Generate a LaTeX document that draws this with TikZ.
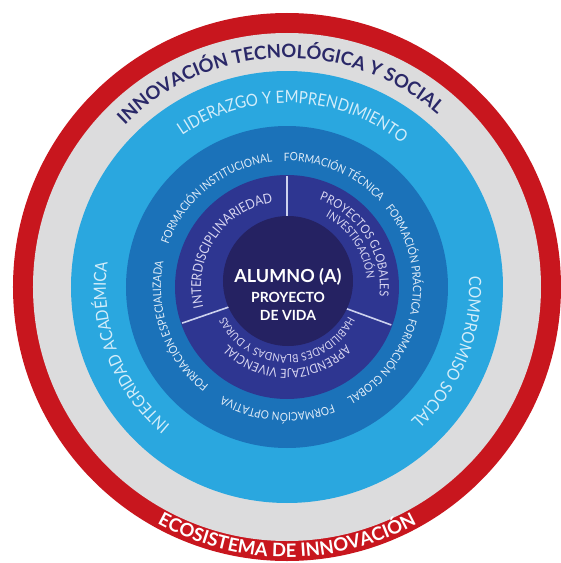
\documentclass[tikz,border=0pt]{standalone}
\usepackage{fontspec}
\setmainfont{Lato}
\newfontfamily\narrowfont[FakeStretch=0.88]{Lato}
\usetikzlibrary{decorations.text}
\definecolor{ecored}{HTML}{C8161E}
\definecolor{ecogray}{HTML}{DCDCDD}
\definecolor{ringsky}{HTML}{2AA7DF}
\definecolor{ringblue}{HTML}{1B72B9}
\definecolor{ringviolet}{HTML}{2E3691}
\definecolor{corenavy}{HTML}{252262}
\definecolor{titlenavy}{HTML}{2A2868}
\definecolor{skytext}{HTML}{D3EDFA}
\definecolor{bluetext}{HTML}{E2EDF8}
\definecolor{violettext}{HTML}{D8D6F1}
\definecolor{divider}{HTML}{CDD2EE}

\newcommand{\fonttitle}{\bfseries\fontsize{18.5}{20}\selectfont}
\newcommand{\fontsky}{\narrowfont\fontsize{17}{19}\selectfont}
\newcommand{\fontblue}{\narrowfont\fontsize{11.5}{13}\selectfont}
\newcommand{\fontviolet}{\narrowfont\fontsize{13.5}{15}\selectfont}
\newcommand{\fontvioletsmall}{\narrowfont\fontsize{11}{13}\selectfont}
% radius, from angle, to angle, colour, font, text
\newcommand{\ringtext}[6]{%
  \path[decorate, decoration={text along path, text align=center,
      text color=#4, text={|#5|#6}}]
    (#2:#1pt) arc[start angle=#2, end angle=#3, radius=#1pt];}

\begin{document}
\begin{tikzpicture}[x=1pt, y=1pt,
    dividerline/.style={draw=divider, line width=1.6pt},
    centertext/.style={text=white, align=center, inner sep=0pt}
  ]
    \useasboundingbox (-287,-276) rectangle (274,287);
    \fill[white] (-287,-276) rectangle (274,287);

    % concentric rings
    \fill[ecored]     (0,0) circle[radius=274pt];
    \fill[ecogray]    (0,0) circle[radius=254pt];
    \fill[ringsky]    (0,0) circle[radius=216pt];
    \fill[ringblue]   (0,0) circle[radius=161pt];
    \fill[ringviolet] (0,0) circle[radius=112pt];
    \foreach \a in {90,199,340}
      \draw[dividerline] (\a:50pt) -- (\a:111pt);
    \fill[corenavy]   (1,6) circle[radius=65pt];

    % outer rings
    \ringtext{229}{162}{22}{titlenavy}{\fonttitle}{INNOVACIÓN TECNOLÓGICA Y SOCIAL}
    \ringtext{270}{210}{330}{white}{\fonttitle}{ECOSISTEMA DE INNOVACIÓN}
    \ringtext{184}{148}{28}{skytext}{\fontsky}{LIDERAZGO Y EMPRENDIMIENTO}
    \ringtext{181}{251}{151}{skytext}{\fontsky}{INTEGRIDAD ACADÉMICA}
    \ringtext{182}{383}{293}{skytext}{\fontsky}{COMPROMISO SOCIAL}

    % formacion ring
    \ringtext{126}{178.5}{78.5}{bluetext}{\fontblue}{FORMACIÓN INSTITUCIONAL}
    \ringtext{126}{117}{17}{bluetext}{\fontblue}{FORMACIÓN TÉCNICA}
    \ringtext{126}{63}{-37}{bluetext}{\fontblue}{FORMACIÓN PRÁCTICA}
    \ringtext{126}{12}{-88}{bluetext}{\fontblue}{FORMACIÓN GLOBAL}
    \ringtext{126}{315.5}{215.5}{bluetext}{\fontblue}{FORMACIÓN OPTATIVA}
    \ringtext{126}{250}{150}{bluetext}{\fontblue}{FORMACIÓN ESPECIALIZADA}

    % inner sectors
    \ringtext{86}{206.5}{86.5}{violettext}{\fontviolet}{INTERDISCIPLINARIEDAD}
    \ringtext{93}{92}{-28}{violettext}{\narrowfont\fontsize{12.5}{14}\selectfont}{PROYECTOS GLOBALES}
    \ringtext{80}{93.5}{-26.5}{violettext}{\narrowfont\fontsize{11.5}{13}\selectfont}{INVESTIGACIÓN}
    \ringtext{82}{350}{190}{violettext}{\narrowfont\fontsize{12.5}{14}\selectfont}{APRENDIZAJE VIVENCIAL}
    \ringtext{68}{360}{180}{violettext}{\fontvioletsmall}{HABILIDADES BLANDAS Y DURAS}

    % centre
    \node[centertext, font=\bfseries\fontsize{18}{20}\selectfont] (alumno) at (1,10) {ALUMNO (A)};
    \node[centertext, font=\bfseries\fontsize{14}{17}\selectfont] (proyecto) at (1,-10) {PROYECTO};
    \node[centertext, font=\bfseries\fontsize{14}{17}\selectfont] (vida) at (1,-28) {DE VIDA};
\end{tikzpicture}
\end{document}
